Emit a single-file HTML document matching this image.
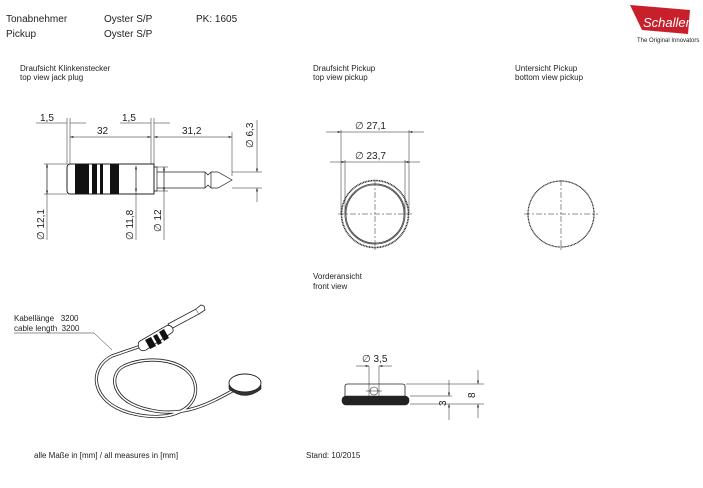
<!DOCTYPE html>
<html><head><meta charset="utf-8"><style>
body{margin:0;background:#fff;width:703px;height:488px;overflow:hidden}
svg{display:block}
text{font-family:"Liberation Sans",sans-serif;fill:#222}
</style></head><body>
<svg width="703" height="488" viewBox="0 0 703 488" xmlns="http://www.w3.org/2000/svg">
<defs><marker id="a" viewBox="0 0 10 6" refX="10" refY="3" markerWidth="8" markerHeight="4" orient="auto-start-reverse"><path d="M0,0L10,3L0,6z" fill="#222"/></marker></defs>
<g font-size="10">
<text x="6" y="22">Tonabnehmer</text><text x="6" y="37">Pickup</text>
<text x="104" y="22">Oyster S/P</text><text x="104" y="37">Oyster S/P</text>
<text x="196" y="22">PK: 1605</text>
</g>
<path d="M630,5 L690,10 L688,34 L642,30 Z" fill="#c8202a"/>
<text x="643" y="27" font-size="13" font-style="italic" font-family="Liberation Serif,serif" style="fill:#fff">Schaller</text>
<text x="637" y="42" font-size="6">The Original Innovators</text>
<g font-size="8">
<text x="20" y="71">Draufsicht Klinkenstecker</text><text x="20" y="80">top view jack plug</text>
<text x="313" y="71">Draufsicht Pickup</text><text x="313" y="80">top view pickup</text>
<text x="515" y="71">Untersicht Pickup</text><text x="515" y="80">bottom view pickup</text>
<text x="313" y="279">Vorderansicht</text><text x="313" y="289">front view</text>
<text x="14" y="321">Kabellänge&#160;&#160;&#160;3200</text><text x="14" y="331">cable length&#160;&#160;3200</text>
<text x="34" y="458">alle Maße in [mm] / all measures in [mm]</text>
<text x="306" y="458">Stand: 10/2015</text>
</g>
<!-- jack plug -->
<g stroke="#222" fill="none" stroke-width="0.7">
<path d="M70,164 H154 V194 H70 Q67,194 67,190 V168 Q67,164 70,164Z" stroke-width="1"/>
<rect x="154" y="167" width="3" height="24"/>
<path d="M157,172 H205 L208,175 L211,172 H218 L232,180 L218,188 H211 L208,185 L205,188 H157" />
<line x1="205" y1="172" x2="205" y2="188"/><line x1="211" y1="172" x2="211" y2="188"/>
<g stroke-width="0.5">
<line x1="67" y1="118" x2="67" y2="164"/><line x1="70" y1="118" x2="70" y2="164"/>
<line x1="151" y1="118" x2="151" y2="164"/><line x1="154" y1="118" x2="154" y2="164"/>
<line x1="232" y1="132" x2="232" y2="176"/>
<line x1="36" y1="123" x2="67" y2="123"/><line x1="70" y1="123" x2="86" y2="123"/>
<line x1="120" y1="123" x2="151" y2="123"/><line x1="154" y1="123" x2="170" y2="123"/>
<line x1="70" y1="137" x2="151" y2="137" marker-start="url(#a)" marker-end="url(#a)"/>
<line x1="154" y1="137" x2="232" y2="137" marker-start="url(#a)" marker-end="url(#a)"/>
<line x1="232" y1="172" x2="262" y2="172"/><line x1="232" y1="188" x2="262" y2="188"/>
<line x1="257" y1="120" x2="257" y2="172" marker-end="url(#a)"/><line x1="257" y1="188" x2="257" y2="202" marker-start="url(#a)"/>
<line x1="44" y1="164" x2="67" y2="164"/><line x1="44" y1="194" x2="67" y2="194"/>
<line x1="47" y1="164" x2="47" y2="240" marker-start="url(#a)"/><line x1="47" y1="164" x2="47" y2="194" marker-end="url(#a)"/>
<line x1="136" y1="166" x2="136" y2="240" marker-start="url(#a)"/><line x1="136" y1="166" x2="136" y2="192" marker-end="url(#a)"/>
<line x1="154" y1="167" x2="168" y2="167"/><line x1="154" y1="191" x2="168" y2="191"/>
<line x1="164" y1="167" x2="164" y2="240" marker-start="url(#a)"/><line x1="164" y1="167" x2="164" y2="191" marker-end="url(#a)"/>
</g></g>
<g fill="#111"><rect x="75" y="164" width="14" height="30"/><rect x="92" y="164" width="5" height="30"/><rect x="100" y="164" width="3" height="30"/><rect x="110" y="164" width="9" height="30"/></g>
<g font-size="10">
<text x="40" y="121">1,5</text><text x="97" y="134">32</text><text x="122" y="121">1,5</text><text x="182" y="134">31,2</text>
<text transform="translate(253,148) rotate(-90)">∅ 6,3</text>
<text transform="translate(44,240) rotate(-90)">∅ 12,1</text>
<text transform="translate(133,240) rotate(-90)">∅ 11,8</text>
<text transform="translate(161,232) rotate(-90)">∅ 12</text>
<text x="355" y="129">∅ 27,1</text><text x="355" y="159">∅ 23,7</text>
<text x="362" y="362">∅ 3,5</text>
<text transform="translate(446,406) rotate(-90)">3</text>
<text transform="translate(475,398) rotate(-90)">8</text>
</g>
<!-- top view pickup -->
<g stroke="#222" fill="none">
<circle cx="375" cy="214" r="33.5" stroke-width="1.6" stroke-dasharray="1 0.6"/>
<circle cx="375" cy="214" r="30" stroke-width="1" stroke="#555"/>
<circle cx="375" cy="214" r="29" stroke-width="0.6"/>
<circle cx="561" cy="214" r="33" stroke-width="1.2" stroke-dasharray="1 0.5"/>
<g stroke-width="0.5" stroke-dasharray="6 2 2 2">
<line x1="338" y1="214" x2="412" y2="214"/><line x1="375" y1="180" x2="375" y2="250"/>
<line x1="524" y1="214" x2="598" y2="214"/><line x1="561" y1="180" x2="561" y2="250"/>
</g>
<g stroke-width="0.5">
<line x1="341" y1="130" x2="341" y2="214"/><line x1="409" y1="130" x2="409" y2="214"/>
<line x1="345" y1="160" x2="345" y2="214"/><line x1="405" y1="160" x2="405" y2="214"/>
<line x1="326" y1="132" x2="341" y2="132" marker-end="url(#a)"/><line x1="341" y1="132" x2="409" y2="132"/><line x1="424" y1="132" x2="409" y2="132" marker-end="url(#a)"/>
<line x1="330" y1="162" x2="345" y2="162" marker-end="url(#a)"/><line x1="345" y1="162" x2="405" y2="162"/><line x1="420" y1="162" x2="405" y2="162" marker-end="url(#a)"/>
</g>
<!-- front view -->
<path d="M345,396 V386 Q345,384 348,384 H402 Q405,384 405,386 V396" stroke-width="0.8"/>
<rect x="342" y="396" width="67" height="9" rx="4" fill="#222" stroke-width="0.6"/>
<circle cx="374" cy="391" r="4" stroke-width="0.6"/>
<g stroke-width="0.5">
<line x1="369" y1="366" x2="369" y2="398"/><line x1="379" y1="366" x2="379" y2="398"/>
<line x1="356" y1="366" x2="369" y2="366" marker-end="url(#a)"/><line x1="392" y1="366" x2="379" y2="366" marker-end="url(#a)"/>
<line x1="366" y1="391" x2="382" y2="391"/>
<line x1="406" y1="384" x2="484" y2="384"/><line x1="410" y1="396" x2="452" y2="396"/><line x1="410" y1="404" x2="484" y2="404"/>
<line x1="449" y1="380" x2="449" y2="396" marker-end="url(#a)"/><line x1="449" y1="420" x2="449" y2="404" marker-end="url(#a)"/>
<line x1="478" y1="370" x2="478" y2="384" marker-end="url(#a)"/><line x1="478" y1="418" x2="478" y2="404" marker-end="url(#a)"/>
</g>
<!-- cable -->
<path d="M141,346 L112,356 C88,368 90,402 130,413 C172,424 200,408 195,384 C190,360 150,354 124,366 C108,374 110,402 150,410 C185,418 212,402 234,390" stroke="#222" stroke-width="3.2"/>
<path d="M141,346 L112,356 C88,368 90,402 130,413 C172,424 200,408 195,384 C190,360 150,354 124,366 C108,374 110,402 150,410 C185,418 212,402 234,390" stroke="#fff" stroke-width="1.6"/>
<path d="M14,333 H94 L112,350" stroke-width="0.5"/>
<!-- pickup iso -->
<path d="M229,385 V389 Q245,402 261,389 V385" fill="#333" stroke-width="0.6"/>
<ellipse cx="245" cy="383" rx="16" ry="9" fill="#fff" stroke-width="0.9"/>
<!-- jack iso -->
<g stroke-width="0.8">
<path d="M168,324 L196,309 L199,314 L171,329 Z" fill="#fff"/>
<path d="M196,309 L201,305 L204,306 L205,310 L199,314" fill="#fff"/>
<path d="M140,341 L166,326 Q171,324 173,329 Q174,332 170,334 L146,350 Q141,352 139,348 Q137,343 140,341Z" fill="#fff"/>
</g>
</g>
<g fill="#111"><path d="M145,340 L151,337 L156,346 L150,349Z"/><path d="M153,336 L157,334 L162,343 L158,345Z"/><path d="M159,332 L164,329 L169,338 L164,341Z"/></g>
</svg>
</body></html>
